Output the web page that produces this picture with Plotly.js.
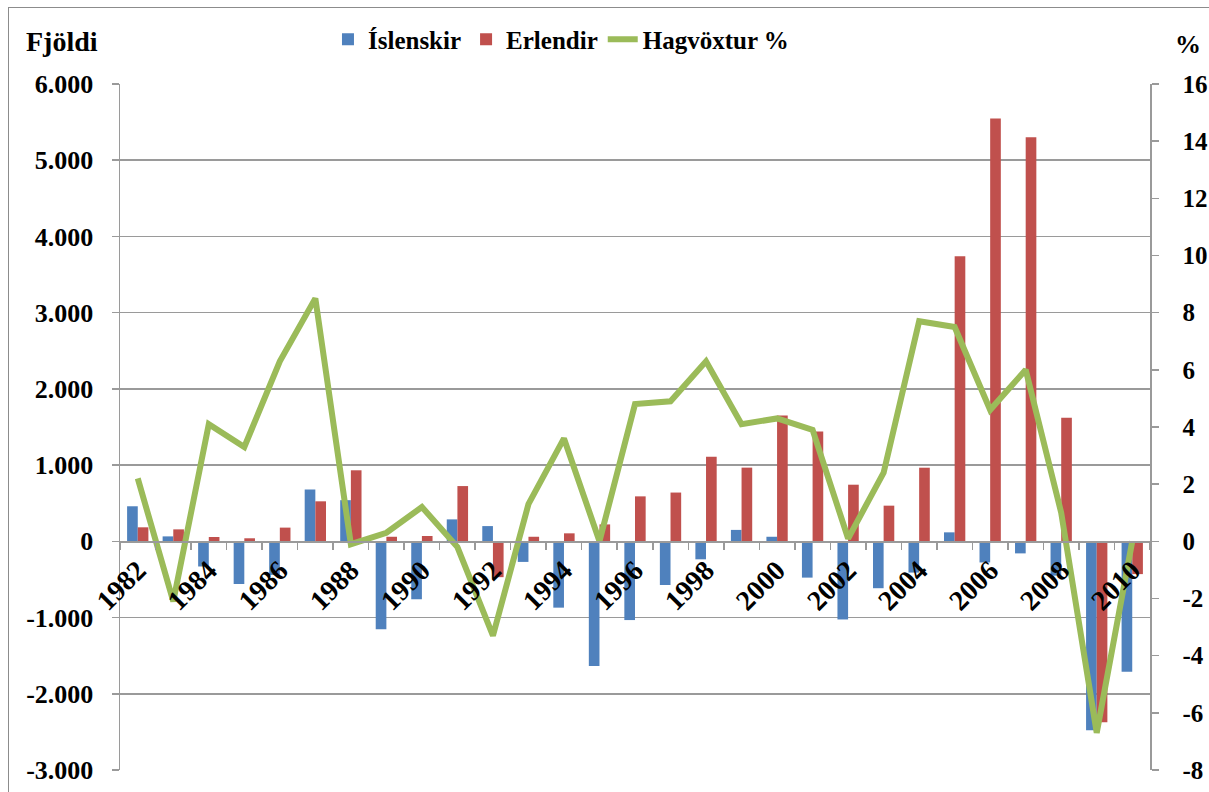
<!DOCTYPE html>
<html>
<head>
<meta charset="utf-8">
<script src="https://cdn.plot.ly/plotly-3.0.1.min.js"></script>
<style>
  html, body { margin: 0; padding: 0; background: #fff; overflow: hidden; }
  #wrap { position: relative; width: 1209px; height: 792px; }
  #chart { position: absolute; left: 0; top: 0; width: 1209px; height: 792px; }
  #frame { position: absolute; left: 8px; top: 7px; width: 1260px; height: 850px;
           border: 1.5px solid #8c8c8c; pointer-events: none; }
</style>
</head>
<body>
<div id="wrap">
  <div id="chart"></div>
  <div id="frame"></div>
</div>
<script>
const years = ['1982','1983','1984','1985','1986','1987','1988','1989','1990','1991',
  '1992','1993','1994','1995','1996','1997','1998','1999','2000','2001',
  '2002','2003','2004','2005','2006','2007','2008','2009','2010'];

const islenskir = [460, 65, -330, -560, -440, 680, 540, -1155, -760, 288,
  200, -270, -870, -1636, -1033, -573, -236, 150, 60, -476,
  -1025, -615, -410, 118, -277, -158, -450, -2480, -1712];

const erlendir = [184, 157, 57, 40, 180, 525, 932, 60, 70, 725,
  -470, 60, 105, 222, 590, 640, 1110, 967, 1650, 1440,
  743, 468, 966, 3740, 5547, 5302, 1622, -2375, -430];

const hagvoxtur = [2.2, -2.1, 4.1, 3.3, 6.3, 8.5, -0.1, 0.3, 1.2, -0.2,
  -3.3, 1.3, 3.6, 0.0, 4.8, 4.9, 6.3, 4.1, 4.3, 3.9,
  0.1, 2.4, 7.7, 7.5, 4.6, 6.0, 1.0, -6.7, 0.0];

const seriesNames = ['Íslenskir', 'Erlendir', 'Hagvöxtur %'];

const leftTickVals = [-3000, -2000, -1000, 0, 1000, 2000, 3000, 4000, 5000, 6000];
const leftTickText = ['-3.000', '-2.000', '-1.000', '0', '1.000', '2.000', '3.000', '4.000', '5.000', '6.000'];
const rightTickVals = [-8, -6, -4, -2, 0, 2, 4, 6, 8, 10, 12, 14, 16];
const rightTickText = ['-8', '-6', '-4', '-2', '0', '2', '4', '6', '8', '10', '12', '14', '16'];
const xTickText = years.map((y, i) => (i % 2 === 0 ? y : ''));

const FONT = '"Liberation Serif", "Times New Roman", serif';
const GRID = '#9a9a9a';

const traces = [
  { type: 'bar', name: seriesNames[0], x: years, y: islenskir,
    marker: { color: '#4F81BD' }, yaxis: 'y' },
  { type: 'bar', name: seriesNames[1], x: years, y: erlendir,
    marker: { color: '#C0504D' }, yaxis: 'y' },
  { type: 'scatter', mode: 'lines', name: seriesNames[2], x: years, y: hagvoxtur,
    line: { color: '#9BBB59', width: 6, shape: 'linear' }, yaxis: 'y2' }
];

const layout = {
  width: 1209, height: 792,
  margin: { l: 120, r: 59, t: 84, b: 22, pad: 0 },
  paper_bgcolor: '#ffffff', plot_bgcolor: '#ffffff',
  font: { family: FONT, size: 24, color: '#000', weight: 'bold' },
  barmode: 'group', bargap: 0.4, bargroupgap: 0,
  showlegend: true,
  legend: {
    orientation: 'h', xref: 'container', yref: 'container',
    x: 0.464, xanchor: 'center', y: 0.95, yanchor: 'middle',
    font: { family: FONT, size: 25, color: '#000', weight: 'bold' },
    itemwidth: 30, tracegroupgap: 0, bgcolor: 'rgba(0,0,0,0)'
  },
  xaxis: {
    type: 'category', anchor: 'free', position: 1 / 3,
    tickmode: 'array', tickvals: years, ticktext: xTickText,
    tickson: 'boundaries', ticks: 'outside', ticklen: 7, tickwidth: 1.5, tickcolor: GRID,
    tickangle: -45, showgrid: false, zeroline: false,
    showline: true, linecolor: GRID, linewidth: 1.5,
    tickfont: { family: FONT, size: 28, color: '#000', weight: 'bold' },
    range: [-0.5, years.length - 0.5], fixedrange: true
  },
  yaxis: {
    domain: [0, 1], range: [-3000, 6000],
    tickmode: 'array', tickvals: leftTickVals, ticktext: leftTickText,
    ticks: 'outside', ticklen: 7, tickwidth: 1.5, tickcolor: GRID,
    showgrid: true, gridcolor: GRID, gridwidth: 1.5, zeroline: false,
    showline: true, linecolor: GRID, linewidth: 1.5,
    tickfont: { family: FONT, size: 26, color: '#000', weight: 'bold' },
    ticklabelstandoff: 13
  },
  yaxis2: {
    overlaying: 'y', side: 'right', range: [-8, 16],
    tickmode: 'array', tickvals: rightTickVals, ticktext: rightTickText,
    ticks: 'outside', ticklen: 7, tickwidth: 1.5, tickcolor: GRID,
    showgrid: false, zeroline: false,
    showline: true, linecolor: GRID, linewidth: 1.5,
    tickfont: { family: FONT, size: 25, color: '#000', weight: 'bold' },
    ticklabelstandoff: 19
  },
  annotations: [
    { text: 'Fjöldi', xref: 'paper', yref: 'paper', x: -0.093, y: 1.062,
      xanchor: 'left', yanchor: 'middle', showarrow: false,
      font: { family: FONT, size: 28, color: '#000', weight: 'bold' } },
    { text: '%', xref: 'paper', yref: 'paper', x: 1.022, y: 1.058,
      xanchor: 'left', yanchor: 'middle', showarrow: false,
      font: { family: FONT, size: 26, color: '#000', weight: 'bold' } }
  ]
};

Plotly.newPlot('chart', traces, layout, { displayModeBar: false, staticPlot: true });
</script>
</body>
</html>
